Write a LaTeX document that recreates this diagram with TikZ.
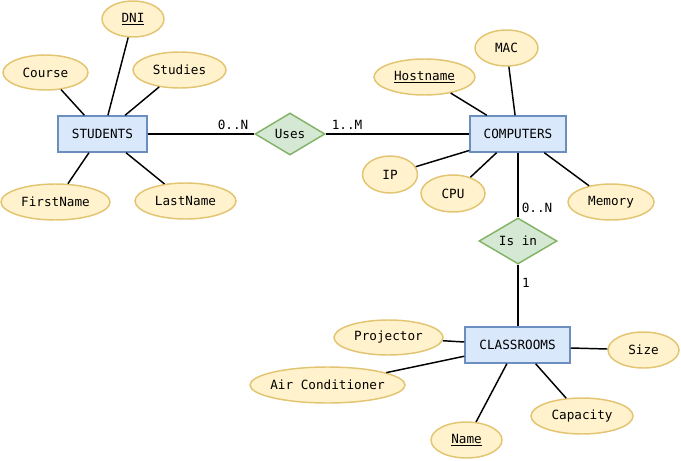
\documentclass[tikz,border=0pt]{standalone}
\usepackage{fontspec}
\setmainfont{DejaVu Sans Mono}
\usetikzlibrary{shapes.geometric,calc}
\definecolor{entfill}{HTML}{DAE8FC}
\definecolor{entdraw}{HTML}{6C8EBF}
\definecolor{attfill}{HTML}{FFF2CC}
\definecolor{attdraw}{HTML}{E3C471}
\definecolor{relfill}{HTML}{D5E8D4}
\definecolor{reldraw}{HTML}{82B366}
\tikzset{
  ent/.style 2 args={draw=entdraw, fill=entfill, line width=1.1pt, rectangle, inner sep=0pt,
     minimum width={#1*0.75pt}, minimum height={#2*0.75pt}, font=\fontsize{9.5pt}{11pt}\selectfont},
  att/.style 2 args={draw=attdraw, fill=attfill, line width=1.1pt, ellipse, inner sep=0pt,
     minimum width={#1*0.75pt}, minimum height={#2*0.75pt}, font=\fontsize{9.5pt}{11pt}\selectfont},
  rel/.style 2 args={draw=reldraw, fill=relfill, line width=1.1pt, diamond, inner sep=0pt,
     minimum width={#1*0.75pt}, minimum height={#2*0.75pt}, font=\fontsize{9.5pt}{11pt}\selectfont},
  conn/.style={line width=1.1pt, black},
  card/.style={font=\fontsize{9.5pt}{11pt}\selectfont, inner sep=0pt}
}
\begin{document}
\begin{tikzpicture}[x=0.75pt,y=-0.75pt]
\useasboundingbox (0,0) rectangle (681,460);
% entities
\node[ent={89}{36}] (stu) at (102.5,134) {STUDENTS};
\node[ent={96}{36}] (comp) at (518,134) {COMPUTERS};
\node[ent={105}{36}] (cls) at (517.5,345) {CLASSROOMS};
% relations
\node[rel={70}{42}, aspect=1.667] (uses) at (290,134) {Uses};
\node[rel={78}{46}, aspect=1.696] (isin) at (518,241) {Is in};
% attributes
\node[att={62}{36}] (dni) at (133,19) {\underline{DNI}};
\node[att={85}{35}] (course) at (45.5,72.5) {Course};
\node[att={93}{36}] (studies) at (179.5,70) {Studies};
\node[att={109}{36}] (first) at (55.5,202) {FirstName};
\node[att={101}{36}] (last) at (185.5,201) {LastName};
\node[att={63}{36}] (mac) at (506.5,48) {MAC};
\node[att={101}{36}] (host) at (424.5,77) {\underline{Hostname}};
\node[att={55}{37}] (ip) at (390,174.5) {IP};
\node[att={64}{37}] (cpu) at (453,193.5) {CPU};
\node[att={86}{36}] (mem) at (611,202) {Memory};
\node[att={109}{35}] (proj) at (388.5,337.5) {Projector};
\node[att={155}{36}, inner xsep=-3pt] (air) at (327.5,385) {Air Conditioner};
\node[att={71}{36}] (name) at (466.5,440) {\underline{Name}};
\node[att={102}{36}] (cap) at (582,416) {Capacity};
\node[att={71}{36}] (size) at (643.5,350) {Size};
% connectors: students
\draw[conn] (dni) -- ($(stu.north west)!0.56!(stu.north east)$);
\draw[conn] (course) -- ($(stu.north west)!0.30!(stu.north east)$);
\draw[conn] (studies) -- ($(stu.north west)!0.75!(stu.north east)$);
\draw[conn] (first) -- ($(stu.south west)!0.35!(stu.south east)$);
\draw[conn] (last) -- ($(stu.south west)!0.76!(stu.south east)$);
% relation lines
\draw[conn] (stu.east) -- (uses.west);
\draw[conn] (uses.east) -- (comp.west);
\draw[conn] (comp.south) -- (isin.north);
\draw[conn] (isin.south) -- (isin.south |- cls.north);
% computers
\draw[conn] (host) -- ($(comp.north west)!0.18!(comp.north east)$);
\draw[conn] (mac) -- ($(comp.north west)!0.47!(comp.north east)$);
\draw[conn] (ip) -- ($(comp.north west)!0.94!(comp.south west)$);
\draw[conn] (cpu) -- ($(comp.south west)!0.28!(comp.south east)$);
\draw[conn] (mem) -- ($(comp.south west)!0.77!(comp.south east)$);
% classrooms
\draw[conn] (proj) -- ($(cls.north west)!0.42!(cls.south west)$);
\draw[conn] (air) -- ($(cls.north west)!0.80!(cls.south west)$);
\draw[conn] (name) -- ($(cls.south west)!0.40!(cls.south east)$);
\draw[conn] (cap) -- ($(cls.south west)!0.67!(cls.south east)$);
\draw[conn] (size) -- ($(cls.north east)!0.58!(cls.south east)$);
% cardinalities
\node[card] (c1) at (233,125) {0..N};
\node[card] (c2) at (347,125) {1..M};
\node[card] (c3) at (537,208) {0..N};
\node[card] (c4) at (526,283) {1};
\end{tikzpicture}
\end{document}
